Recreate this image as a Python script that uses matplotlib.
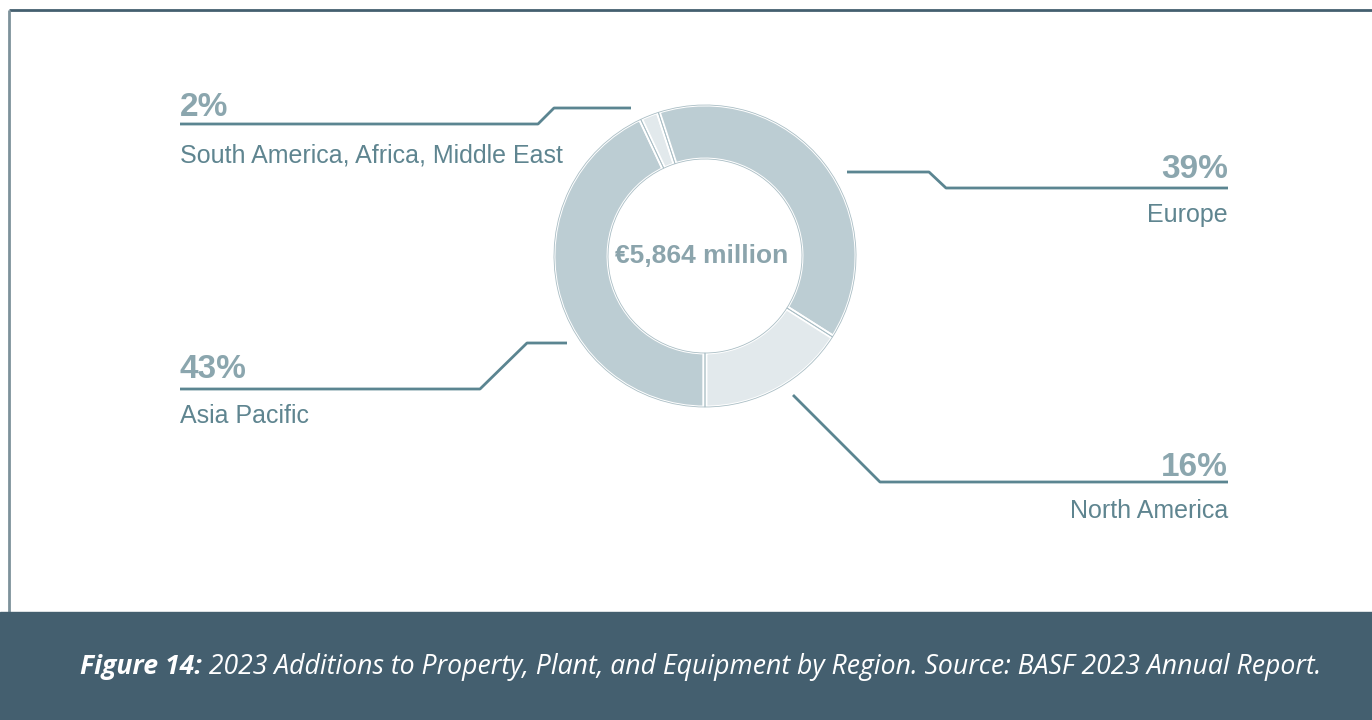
import matplotlib.pyplot as plt
from matplotlib.patches import Rectangle

W, H = 1372, 720

regions = ['Asia Pacific', 'South America, Africa, Middle East', 'Europe', 'North America']
shares = [43, 2, 39, 16]
total_label = '€5,864 million'
caption_bold = 'Figure 14:'
caption_rest = ' 2023 Additions to Property, Plant, and Equipment by Region. Source: BASF 2023 Annual Report.'

ring_colors = ['#bccdd3', '#e2e9ec', '#bccdd3', '#e2e9ec']
line_c = '#5b8591'
pct_c = '#8ba6ae'
lab_c = '#5f8590'
footer_c = '#445f6f'


def Y(y):
    # pixel rows are counted from the top
    return H - y


fig = plt.figure(figsize=(W / 100, H / 100), dpi=100)
ax = fig.add_axes([0, 0, 1, 1])

cx, cy, R = 705, 256, 152
ax.pie(shares, colors=ring_colors, startangle=-90, counterclock=False,
       center=(cx, Y(cy)), radius=R,
       wedgeprops=dict(width=56, edgecolor='white', linewidth=3.5))
# thin darker outline on each wedge
ax.pie(shares, colors=['none'] * 4, startangle=-90, counterclock=False,
       center=(cx, Y(cy)), radius=R - 1,
       wedgeprops=dict(width=54, edgecolor='#a9bdc4', linewidth=0.6, fill=False))

ax.set_xlim(0, W)
ax.set_ylim(0, H)
ax.axis('off')

ax.text(cx - 3, Y(cy), total_label, ha='center', va='center', fontsize=19,
        fontweight='bold', color='#8ba4ac', family='Liberation Sans')

# leader lines
leaders = {
    'Asia Pacific': ([180, 480, 527, 567], [389, 389, 343, 343]),
    'South America, Africa, Middle East': ([180, 538, 554, 631], [124, 124, 108, 108]),
    'Europe': ([847, 929, 946, 1228], [172, 172, 188, 188]),
    'North America': ([793, 880, 1228], [395, 482, 482]),
}
for name, (xs, ys) in leaders.items():
    ax.plot(xs, [Y(v) for v in ys], color=line_c, lw=2, solid_capstyle='butt')

# percent values and region names
spots = {
    'Asia Pacific': (180, 378, 423, 'left'),
    'South America, Africa, Middle East': (180, 116, 162, 'left'),
    'Europe': (1228, 178, 222, 'right'),
    'North America': (1228, 476, 518, 'right'),
}
for name, share in zip(regions, shares):
    x, yp, yl, ha = spots[name]
    ax.text(x, Y(yp), f'{share}%', ha=ha, va='baseline', fontsize=24,
            fontweight='bold', color=pct_c, family='Liberation Sans')
    ax.text(x, Y(yl), name, ha=ha, va='baseline', fontsize=18,
            color=lab_c, family='Liberation Sans')

# frame and caption band
ax.plot([9, W], [Y(10), Y(10)], color=footer_c, lw=2, solid_capstyle='butt')
ax.plot([9, 9], [Y(10), Y(612)], color='#7d929b', lw=2, solid_capstyle='butt')
ax.add_patch(Rectangle((0, 0), W, H - 612, color=footer_c, zorder=3))

t1 = ax.text(80, Y(667), caption_bold, ha='left', va='center', fontsize=19.2,
             fontweight='bold', style='italic', color='white', family='Open Sans', zorder=4)
fig.canvas.draw()
bb = t1.get_window_extent()
ax.text(bb.x1, Y(667), caption_rest, ha='left', va='center', fontsize=19.2,
        style='italic', color='white', family='Open Sans', zorder=4)

fig.savefig('out.png', dpi=100)
